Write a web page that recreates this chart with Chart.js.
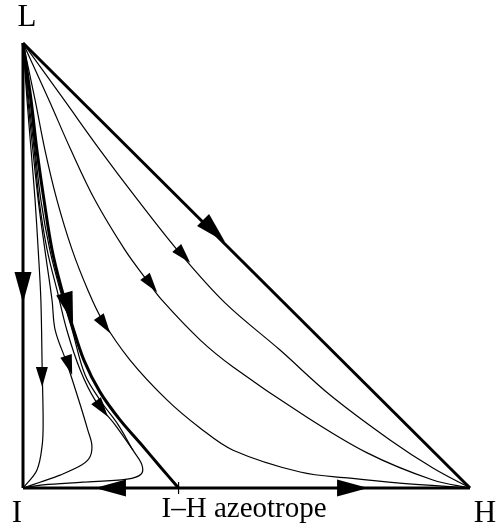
<!DOCTYPE html>
<html>
<head>
<meta charset="utf-8">
<script src="https://cdn.jsdelivr.net/npm/chart.js@4.4.1/dist/chart.umd.min.js"></script>
<style>
  html, body { margin: 0; padding: 0; background: #fff; }
  canvas { display: block; }
</style>
</head>
<body>
<canvas id="chart" width="498" height="531"></canvas>
<script>
// Residue curve map. x = mole fraction of H, y = mole fraction of L, I at the origin.
const azeotropeX = 0.348

const edgeLH = [[0, 1], [1, 0]]
const edgeLI = [[0, 1], [0, 0]]
const edgeAzeoI = [[azeotropeX, 0], [0, 0]]
const edgeAzeoH = [[azeotropeX, 0], [1, 0]]

const separatrix = [[0, 1], [0.018, 0.872], [0.031, 0.760], [0.047, 0.647], [0.065, 0.535], [0.087, 0.445],
  [0.110, 0.366], [0.136, 0.288], [0.172, 0.216], [0.217, 0.153], [0.262, 0.101], [0.306, 0.049],
  [azeotropeX, 0]]

// curves ending in I
const curveC = [[0, 1], [0.009, 0.872], [0.018, 0.760], [0.027, 0.647], [0.034, 0.535], [0.040, 0.422],
  [0.043, 0.261], [0.045, 0.153], [0.043, 0.097], [0.031, 0.040], [0, 0]]
const curveB = [[0, 1], [0.011, 0.872], [0.022, 0.760], [0.034, 0.647], [0.049, 0.535], [0.065, 0.422],
  [0.072, 0.355], [0.098, 0.281], [0.128, 0.187], [0.145, 0.130], [0.154, 0.097], [0.150, 0.070],
  [0.132, 0.052], [0.083, 0.029], [0.038, 0.013], [0, 0]]
const curveX = [[0, 1], [0.013, 0.872], [0.025, 0.760], [0.036, 0.647], [0.054, 0.535], [0.076, 0.445],
  [0.098, 0.355], [0.128, 0.265], [0.161, 0.198], [0.206, 0.142], [0.246, 0.085]]
const curveD = [[0, 1], [0.016, 0.872], [0.027, 0.760], [0.040, 0.647], [0.060, 0.535], [0.083, 0.445],
  [0.110, 0.355], [0.139, 0.254], [0.177, 0.191], [0.213, 0.142], [0.246, 0.085], [0.266, 0.052],
  [0.264, 0.031], [0.233, 0.020], [0.134, 0.013], [0.045, 0.007], [0, 0]]

// curves ending in H
const curveG = [[0, 1], [0.027, 0.872], [0.049, 0.760], [0.076, 0.647], [0.110, 0.535], [0.145, 0.445],
  [0.177, 0.378], [0.239, 0.288], [0.322, 0.198], [0.396, 0.135], [0.470, 0.085], [0.620, 0.036],
  [0.732, 0.022], [0.843, 0.011], [1, 0]]
const curveF = [[0, 1], [0.058, 0.872], [0.107, 0.760], [0.161, 0.647], [0.228, 0.535], [0.277, 0.467],
  [0.311, 0.422], [0.396, 0.333], [0.470, 0.272], [0.620, 0.169], [0.770, 0.079], [0.917, 0.018], [1, 0]]
const curveE = [[0, 1], [0.092, 0.872], [0.172, 0.760], [0.257, 0.647], [0.351, 0.528], [0.452, 0.416],
  [0.575, 0.310], [0.687, 0.209], [0.821, 0.108], [0.917, 0.045], [1, 0]]

// arrow tips: curve, x, y
const arrowTips = [
  ["LH", 0.452, 0.553], ["LI", 0, 0.416], ["sep", 0.112, 0.371],
  ["azeoI", 0.161, 0], ["azeoH", 0.772, 0],
  ["E", 0.374, 0.506], ["F", 0.300, 0.440], ["G", 0.195, 0.348],
  ["C", 0.043, 0.227], ["B", 0.110, 0.254], ["D", 0.190, 0.160]
]

const curves = {
  LH: edgeLH, LI: edgeLI, azeoI: edgeAzeoI, azeoH: edgeAzeoH, sep: separatrix,
  C: curveC, B: curveB, X: curveX, D: curveD, G: curveG, F: curveF, E: curveE
}
const thick = ["LH", "LI", "azeoI", "azeoH", "sep"]

const datasets = Object.entries(curves).map(([name, pts]) => ({
  label: name,
  data: pts.map(([x, y]) => ({ x, y })),
  showLine: true,
  pointRadius: 0,
  borderColor: "#000",
  borderWidth: thick.includes(name) ? 3 : 1.2,
  tension: pts.length > 2 ? 0.35 : 0,
  clip: false
}))

const arrowPlugin = {
  id: "arrows",
  afterDatasetsDraw(chart) {
    const { ctx, scales: { x, y } } = chart
    ctx.save()
    ctx.fillStyle = "#000"
    arrowTips.forEach(([name, ax, ay]) => {
      const pts = curves[name].map(([px, py]) => [x.getPixelForValue(px), y.getPixelForValue(py)])
      const tx = x.getPixelForValue(ax)
      const ty = y.getPixelForValue(ay)
      // direction of the nearest segment of the curve
      let best = Infinity
      let dir = [1, 0]
      for (let i = 0; i < pts.length - 1; i++) {
        const [x0, y0] = pts[i]
        const [x1, y1] = pts[i + 1]
        const dx = x1 - x0, dy = y1 - y0
        const l2 = dx * dx + dy * dy
        let t = ((tx - x0) * dx + (ty - y0) * dy) / l2
        t = Math.max(0, Math.min(1, t))
        const d = Math.hypot(x0 + t * dx - tx, y0 + t * dy - ty)
        if (d < best) {
          best = d
          const l = Math.sqrt(l2)
          dir = [dx / l, dy / l]
        }
      }
      const big = thick.includes(name)
      const len = big ? 31 : 20
      const half = big ? 8.5 : 6
      const bx = tx - dir[0] * len, by = ty - dir[1] * len
      ctx.beginPath()
      ctx.moveTo(tx, ty)
      ctx.lineTo(bx - dir[1] * half, by + dir[0] * half)
      ctx.lineTo(bx + dir[1] * half, by - dir[0] * half)
      ctx.closePath()
      ctx.fill()
    })
    ctx.restore()
  }
}

const labelPlugin = {
  id: "labels",
  afterDraw(chart) {
    const { ctx, scales: { x, y } } = chart
    const ix = x.getPixelForValue(0), iy = y.getPixelForValue(0)
    const hx = x.getPixelForValue(1), ly = y.getPixelForValue(1)
    const az = x.getPixelForValue(azeotropeX)
    ctx.save()
    ctx.strokeStyle = "#000"
    ctx.lineWidth = 1.2
    ctx.beginPath()
    ctx.moveTo(az, iy - 6)
    ctx.lineTo(az, iy + 6)
    ctx.stroke()

    ctx.fillStyle = "#000"
    ctx.textBaseline = "alphabetic"
    ctx.font = "31px 'Liberation Serif', 'DejaVu Serif', serif"
    ctx.textAlign = "center"
    ctx.fillText("L", ix + 4, ly - 17)
    ctx.fillText("I", ix - 6, iy + 34)
    ctx.fillText("H", hx + 15, iy + 34)
    ctx.font = "29px 'Liberation Serif', 'DejaVu Serif', serif"
    ctx.textAlign = "left"
    ctx.fillText("I\u2013H azeotrope", az - 17, iy + 29)
    ctx.restore()
  }
}

new Chart(document.getElementById("chart"), {
  type: "scatter",
  data: { datasets },
  options: {
    responsive: false,
    animation: false,
    devicePixelRatio: 1,
    layout: { padding: { left: 23, right: 28, top: 43, bottom: 43 } },
    plugins: { legend: { display: false }, tooltip: { enabled: false } },
    scales: {
      x: { type: "linear", min: 0, max: 1, display: false },
      y: { type: "linear", min: 0, max: 1, display: false }
    }
  },
  plugins: [arrowPlugin, labelPlugin]
})
</script>
</body>
</html>
